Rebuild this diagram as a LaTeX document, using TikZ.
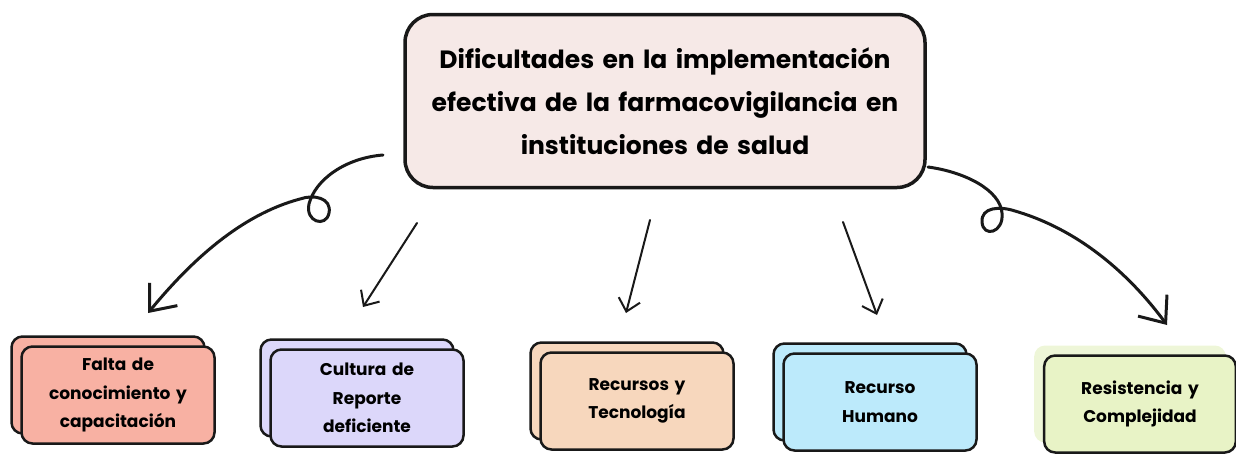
\documentclass[tikz,border=0pt]{standalone}
\usepackage{fontspec}
\setmainfont{Poppins}
\usetikzlibrary{arrows.meta, shadows}

\definecolor{toppink}{HTML}{F6E9E7}
\definecolor{salmon}{HTML}{F8B1A3}
\definecolor{lavender}{HTML}{DCD7FA}
\definecolor{peach}{HTML}{F7D7BD}
\definecolor{skyblue}{HTML}{BCEAFB}
\definecolor{lime}{HTML}{E8F3C6}
\definecolor{limeback}{HTML}{EEF6D8}

\tikzset{
  title/.style={draw=black!90, line width=3.5pt, rounded corners=28pt, fill=toppink,
    minimum width=520pt, minimum height=173pt, text width=505pt, align=center,
    font=\fontsize{25}{43}\selectfont\bfseries},
  cardbase/.style={draw=black!90, line width=2.5pt, rounded corners=11pt,
    minimum width=193pt, minimum height=97pt, text width=185pt, align=center,
    font=\fontsize{17}{28.5}\selectfont\bfseries},
  card/.style={cardbase, copy shadow={shadow xshift=-10pt, shadow yshift=10pt}},
  curly/.style={draw=black!90, line width=3pt, line cap=round,
    -{Straight Barb[length=22pt, width=36pt]}},
  thin/.style={draw=black!90, line width=2pt, line cap=round,
    -{Straight Barb[length=12pt, width=22pt]}}
}

\begin{document}
\begin{tikzpicture}[x=1pt, y=-1pt]
\useasboundingbox (0,0) rectangle (1236,453);

% main topic
\node[title] (top) at (665,101) {Dificultades en la implementación\\
  efectiva de la farmacovigilancia en\\ instituciones de salud};

% the five cards
\node[card, fill=salmon] (falta) at (118,395) {Falta de\\ conocimiento y\\ capacitación};
\node[card, fill=lavender] (cultura) at (367,398) {Cultura de\\ Reporte\\ deficiente};
\node[card, fill=peach] (recursos) at (637,401) {Recursos y\\ Tecnología};
\node[card, fill=skyblue] (humano) at (880,402) {Recurso\\ Humano};
\node[cardbase, fill=lime, minimum width=188pt,
  general shadow={fill=limeback, shadow xshift=-10pt, shadow yshift=10pt}]
  (resist) at (1140,404) {Resistencia y\\ Complejidad};

% free ends of the arrows
\coordinate (ls) at (383,155);
\coordinate (le) at (148,313);
\coordinate (rs) at (928,167);
\coordinate (re) at (1167,325);
\coordinate (as) at (417,223);
\coordinate (ae) at (363,307);
\coordinate (bs) at (650,220);
\coordinate (be) at (626,313);
\coordinate (cs) at (843,222);
\coordinate (ce) at (877,315);

% curly arrows with a loop
\draw[curly] (ls) .. controls (345,158) and (315,180) .. (309,204)
  .. controls (305,222) and (326,228) .. (329,213)
  .. controls (332,198) and (314,194) .. (300,199)
  .. controls (240,215) and (190,262) .. (le);
\draw[curly] (rs) .. controls (965,172) and (1000,190) .. (1002,213)
  .. controls (1004,233) and (983,238) .. (982,222)
  .. controls (981,207) and (1000,206) .. (1015,211)
  .. controls (1080,230) and (1130,275) .. (re);

% straight arrows
\draw[thin] (as) -- (ae);
\draw[thin] (bs) -- (be);
\draw[thin] (cs) -- (ce);
\end{tikzpicture}
\end{document}
